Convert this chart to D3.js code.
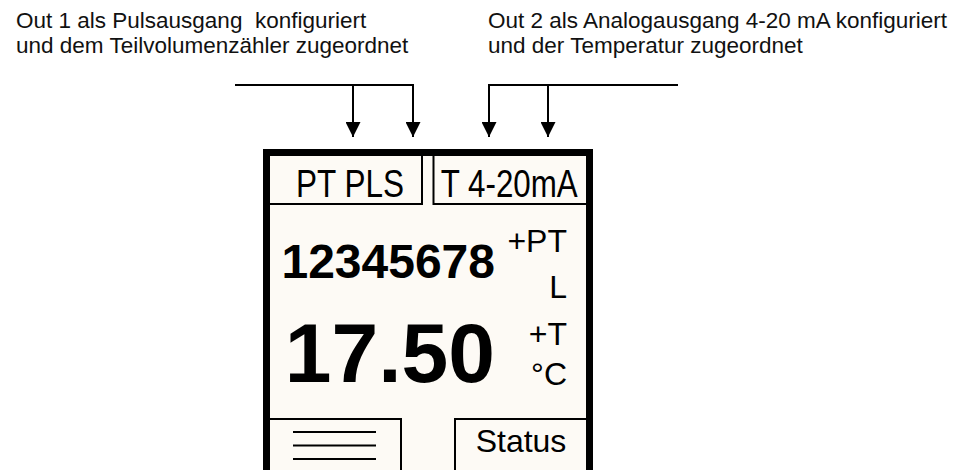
<!DOCTYPE html>
<html>
<head>
<meta charset="utf-8">
<script src="https://cdn.jsdelivr.net/npm/d3@7"></script>
<style>
  html, body { margin: 0; padding: 0; background: #fff; }
  svg { display: block; font-family: "Liberation Sans", Arial, sans-serif; }
  text { white-space: pre; }
</style>
</head>
<body>
<div id="chart"></div>
<script>
// texts of the diagram
var titleOut1 = ["Out 1 als Pulsausgang  konfiguriert", "und dem Teilvolumenzähler zugeordnet"];
var titleOut2 = ["Out 2 als Analogausgang 4-20 mA konfiguriert", "und der Temperatur zugeordnet"];
var outLabels = ["PT PLS", "T 4-20mA"];
var readingValues = ["12345678", "17.50"];
var readingChannels = ["+PT", "+T"];
var readingUnits = ["L", "°C"];
var statusLabel = "Status";
var menuLines = [0, 1, 2];

var width = 967, height = 470;

var svg = d3.select("#chart").append("svg")
  .attr("width", width)
  .attr("height", height);

var defs = svg.append("defs");
defs.append("marker")
  .attr("id", "head")
  .attr("viewBox", "0 0 15 15")
  .attr("refX", 15).attr("refY", 7.5)
  .attr("markerUnits", "userSpaceOnUse")
  .attr("markerWidth", 15).attr("markerHeight", 15)
  .attr("orient", "auto")
  .append("path")
  .attr("d", "M0,0L15,7.5L0,15Z")
  .attr("fill", "#000");

// titles
function title(lines, x) {
  svg.append("g").selectAll("text")
    .data(lines)
    .enter().append("text")
    .attr("x", x)
    .attr("y", function(d, i){ return 28 + i * 25; })
    .attr("font-size", 22.5)
    .attr("fill", "#111")
    .text(function(d){ return d; });
}
title(titleOut1, 16);
title(titleOut2, 488);

// arrows
var busY = 85, tipY = 137;
var arrows = [
  {bus: [235, 413], drops: [353, 413]},
  {bus: [489, 678], drops: [489, 548]}
];
var arrowG = svg.append("g");
arrows.forEach(function(a){
  arrowG.append("path")
    .attr("d", "M" + a.bus[0] + "," + busY + "H" + a.bus[1])
    .attr("stroke", "#000").attr("stroke-width", 2).attr("fill", "none");
  a.drops.forEach(function(x){
    arrowG.append("path")
      .attr("d", "M" + x + "," + (busY - 1) + "V" + tipY)
      .attr("stroke", "#000").attr("stroke-width", 2).attr("fill", "none")
      .attr("marker-end", "url(#head)");
  });
});

// display box
var box = {x0: 263, x1: 593, y0: 149, y1: 490, border: 7};
var ix0 = box.x0 + box.border, ix1 = box.x1 - box.border, iy0 = box.y0 + box.border;

svg.append("rect")
  .attr("x", box.x0 + box.border / 2)
  .attr("y", box.y0 + box.border / 2)
  .attr("width", box.x1 - box.x0 - box.border)
  .attr("height", box.y1 - box.y0)
  .attr("fill", "#fdfaf5")
  .attr("stroke", "#000")
  .attr("stroke-width", box.border);

// top output fields
var topFields = [
  {x0: ix0, x1: 423},
  {x0: 432.5, x1: ix1}
];
var topG = svg.append("g").selectAll("g")
  .data(outLabels)
  .enter().append("g");

topG.append("path")
  .attr("d", function(d, i){
    var f = topFields[i];
    return i === 0
      ? "M" + f.x0 + ",204H" + (f.x1 - 1) + "V" + iy0
      : "M" + (f.x0 + 1) + "," + iy0 + "V204H" + f.x1;
  })
  .attr("fill", "none").attr("stroke", "#000").attr("stroke-width", 2);

topG.append("text")
  .attr("x", function(d, i){ return i === 0 ? 350 : (topFields[i].x0 + topFields[i].x1) / 2; })
  .attr("y", 197)
  .attr("text-anchor", "middle")
  .attr("font-size", 38)
  .attr("textLength", function(d, i){ return i === 0 ? 108 : 137; })
  .attr("lengthAdjust", "spacingAndGlyphs")
  .attr("fill", "#000")
  .text(function(d){ return d; });

// readings
var valueRows = [
  {y: 278, size: 48, chanY: 252, unitY: 298},
  {y: 382, size: 84, chanY: 345, unitY: 385}
];
var readG = svg.append("g").selectAll("g")
  .data(readingValues)
  .enter().append("g");

readG.append("text")
  .attr("x", 495)
  .attr("y", function(d, i){ return valueRows[i].y; })
  .attr("text-anchor", "end")
  .attr("font-weight", "bold")
  .attr("font-size", function(d, i){ return valueRows[i].size; })
  .attr("fill", "#000")
  .text(function(d){ return d; });

readG.append("text")
  .attr("x", 567)
  .attr("y", function(d, i){ return valueRows[i].chanY; })
  .attr("text-anchor", "end")
  .attr("font-size", 32)
  .attr("fill", "#000")
  .text(function(d, i){ return readingChannels[i]; });

readG.append("text")
  .attr("x", 567)
  .attr("y", function(d, i){ return valueRows[i].unitY; })
  .attr("text-anchor", "end")
  .attr("font-size", 32)
  .attr("fill", "#000")
  .text(function(d, i){ return readingUnits[i]; });

// bottom fields
var bottomY = 419;
svg.append("path")
  .attr("d", "M" + ix0 + "," + bottomY + "H401V" + box.y1)
  .attr("fill", "none").attr("stroke", "#000").attr("stroke-width", 2);
svg.append("path")
  .attr("d", "M455," + box.y1 + "V" + bottomY + "H" + ix1)
  .attr("fill", "none").attr("stroke", "#000").attr("stroke-width", 2);

svg.append("g").selectAll("line")
  .data(menuLines)
  .enter().append("line")
  .attr("x1", 293).attr("x2", 376)
  .attr("y1", function(d){ return 432 + d * 13.5; })
  .attr("y2", function(d){ return 432 + d * 13.5; })
  .attr("stroke", "#000").attr("stroke-width", 2);

svg.append("text")
  .attr("x", 521)
  .attr("y", 452)
  .attr("text-anchor", "middle")
  .attr("font-size", 32)
  .attr("fill", "#000")
  .text(statusLabel);
</script>
</body>
</html>
